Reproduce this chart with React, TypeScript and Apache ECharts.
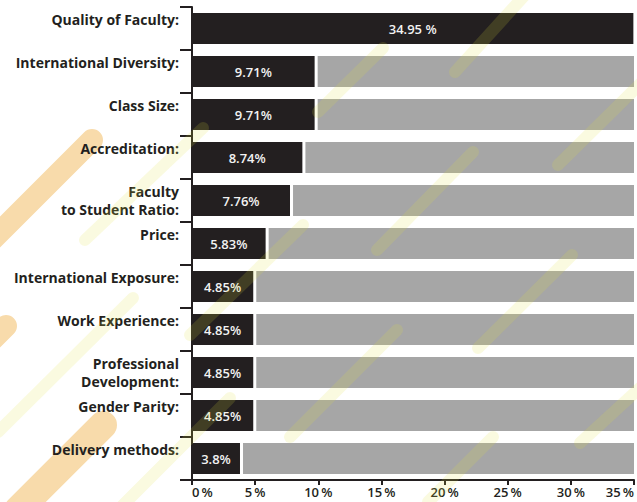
import React, { useEffect, useRef } from "react";
import * as echarts from "echarts";

const categories = [
  "Quality of Faculty:",
  "International Diversity:",
  "Class Size:",
  "Accreditation:",
  "Faculty\nto Student Ratio:",
  "Price:",
  "International Exposure:",
  "Work Experience:",
  "Professional\nDevelopment:",
  "Gender Parity:",
  "Delivery methods:",
];
const values = [34.95, 9.71, 9.71, 8.74, 7.76, 5.83, 4.85, 4.85, 4.85, 4.85, 3.8];
const valueLabels = ["34.95 %", "9.71%", "9.71%", "8.74%", "7.76%", "5.83%", "4.85%", "4.85%", "4.85%", "4.85%", "3.8%"];
const axisMax = 35;
const axisStep = 5;
const gapValue = 0.24;

// decorative diagonal stripes (x1, y1, x2, y2, width)
const orangeStripes = [
  [92, 140, -12, 244, 22],
  [6, 326, -30, 362, 22],
  [103, 425, 18, 510, 28],
];
const paleStripes = [
  [203, 128, 85, 240],
  [133, 298, -2, 432],
  [230, 398, 118, 510],
  [303, 225, 190, 335],
  [473, 152, 377, 250],
  [572, 255, 478, 348],
  [397, 330, 290, 437],
  [493, 437, 428, 502],
  [642, 386, 580, 443],
  [383, 48, 318, 112],
  [525, -5, 455, 72],
  [642, 82, 558, 165],
];

const DARK = "#231f20";
const GRAY = "#a6a6a6";
const FONT = "'Open Sans'";

export default function App() {
  const ref = useRef<HTMLDivElement>(null);
  useEffect(() => {
    const chart = echarts.init(ref.current!, null, { renderer: "svg" });
    const graphics: any[] = [];
    orangeStripes.forEach((s) =>
      graphics.push({
        type: "line",
        z: 0,
        silent: true,
        shape: { x1: s[0], y1: s[1], x2: s[2], y2: s[3] },
        style: { stroke: "#f8dbab", lineWidth: s[4], lineCap: "round" },
      })
    );
    paleStripes.forEach((s) =>
      graphics.push({
        type: "line",
        z: 10,
        silent: true,
        shape: { x1: s[0], y1: s[1], x2: s[2], y2: s[3] },
        style: { stroke: "#e0e040", lineWidth: 12, lineCap: "round", opacity: 0.16 },
      })
    );
    chart.setOption({
      animation: false,
      backgroundColor: "#ffffff",
      graphic: graphics,
      grid: { left: 192, right: 1, top: 7, bottom: 22, containLabel: false },
      xAxis: {
        type: "value",
        min: 0,
        max: axisMax,
        interval: axisStep,
        splitLine: { show: false },
        axisLine: { show: true, lineStyle: { color: DARK, width: 2 } },
        axisTick: { show: true, length: 5, lineStyle: { color: DARK, width: 2 } },
        axisLabel: {
          formatter: (v: number) => v + "\u2009%",
          color: DARK,
          fontFamily: FONT,
          fontWeight: 600,
          fontSize: 13,
          margin: 5,
          alignMinLabel: "left",
          alignMaxLabel: "right",
        },
      },
      yAxis: {
        type: "category",
        inverse: true,
        data: categories,
        axisLine: { show: true, lineStyle: { color: DARK, width: 2 } },
        axisTick: { show: true, length: 12, alignWithLabel: false, lineStyle: { color: DARK, width: 2 } },
        axisLabel: {
          formatter: (v: string) => (v.indexOf("\n") >= 0 ? v : v + "\n "),
          color: DARK,
          fontFamily: FONT,
          fontWeight: "bold",
          fontSize: 14,
          lineHeight: 18,
          margin: 13,
          padding: [0, 0, 5, 0],
        },
      },
      series: [
        {
          type: "bar",
          stack: "s",
          barWidth: 31,
          data: values,
          itemStyle: { color: DARK },
          label: {
            show: true,
            position: "inside",
            formatter: (p: any) => valueLabels[p.dataIndex],
            color: "#f2f2f2",
            fontFamily: FONT,
            fontWeight: 600,
            fontSize: 13,
          },
        },
        {
          type: "bar",
          stack: "s",
          barWidth: 31,
          data: values.map(() => gapValue),
          itemStyle: { color: "rgba(0,0,0,0)" },
          silent: true,
        },
        {
          type: "bar",
          stack: "s",
          barWidth: 31,
          data: values.map((v) => Math.max(0, axisMax - v - gapValue)),
          itemStyle: { color: GRAY },
          silent: true,
        },
      ],
    });
    return () => chart.dispose();
  }, []);
  return <div ref={ref} style={{ width: 637, height: 502, position: "fixed", left: 0, top: 0 }} />;
}
